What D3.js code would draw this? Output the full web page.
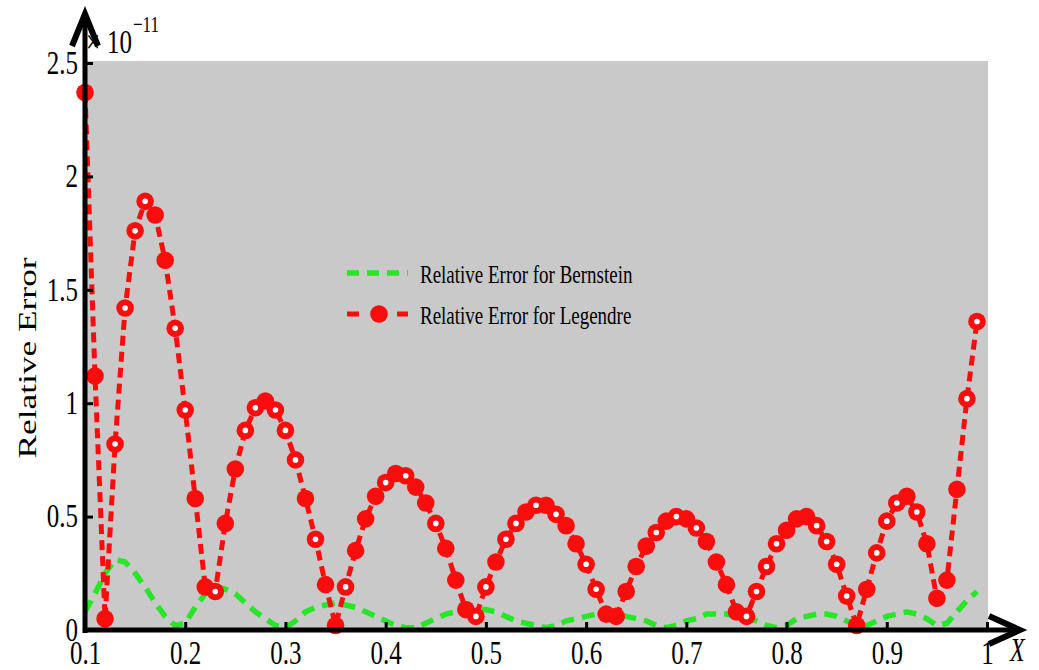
<!DOCTYPE html>
<html>
<head>
<meta charset="utf-8">
<script src="https://cdn.jsdelivr.net/npm/d3@7"></script>
<style>
  body { margin: 0; background: #fff; }
  svg { display: block; }
  text { font-family: "Liberation Serif", "Times New Roman", serif; fill: #000; }
</style>
</head>
<body>
<svg id="chart" width="1039" height="670"></svg>
<script>
// Sample points of x
const xValues = [
  0.10, 0.11, 0.12, 0.13, 0.14, 0.15, 0.16, 0.17, 0.18, 0.19,
  0.20, 0.21, 0.22, 0.23, 0.24, 0.25, 0.26, 0.27, 0.28, 0.29,
  0.30, 0.31, 0.32, 0.33, 0.34, 0.35, 0.36, 0.37, 0.38, 0.39,
  0.40, 0.41, 0.42, 0.43, 0.44, 0.45, 0.46, 0.47, 0.48, 0.49,
  0.50, 0.51, 0.52, 0.53, 0.54, 0.55, 0.56, 0.57, 0.58, 0.59,
  0.60, 0.61, 0.62, 0.63, 0.64, 0.65, 0.66, 0.67, 0.68, 0.69,
  0.70, 0.71, 0.72, 0.73, 0.74, 0.75, 0.76, 0.77, 0.78, 0.79,
  0.80, 0.81, 0.82, 0.83, 0.84, 0.85, 0.86, 0.87, 0.88, 0.89,
  0.90, 0.91, 0.92, 0.93, 0.94, 0.95, 0.96, 0.97, 0.98, 0.99
];

// Relative error (units of 1e-11), Bernstein approximation
const bernstein = [
  0.08, 0.16, 0.25, 0.31, 0.30, 0.25, 0.19, 0.12, 0.06, 0.02,
  0.03, 0.10, 0.16, 0.19, 0.18, 0.16, 0.12, 0.08, 0.05, 0.02,
  0.01, 0.04, 0.08, 0.10, 0.11, 0.12, 0.11, 0.10, 0.08, 0.06,
  0.04, 0.02, 0.01, 0.01, 0.03, 0.05, 0.07, 0.08, 0.09, 0.09,
  0.09, 0.08, 0.06, 0.04, 0.03, 0.02, 0.01, 0.02, 0.04, 0.05,
  0.06, 0.07, 0.07, 0.07, 0.06, 0.05, 0.04, 0.02, 0.01, 0.02,
  0.04, 0.05, 0.07, 0.07, 0.07, 0.06, 0.05, 0.04, 0.02, 0.01,
  0.02, 0.05, 0.06, 0.07, 0.07, 0.06, 0.04, 0.02, 0.02, 0.04,
  0.06, 0.07, 0.08, 0.07, 0.05, 0.02, 0.03, 0.08, 0.13, 0.17
];

// Relative error (units of 1e-11), Legendre approximation
const legendre = [
  2.37, 1.12, 0.05, 0.82, 1.42, 1.76, 1.89, 1.83, 1.63, 1.33,
  0.97, 0.58, 0.19, 0.17, 0.47, 0.71, 0.88, 0.98, 1.01, 0.97,
  0.88, 0.75, 0.58, 0.40, 0.20, 0.02, 0.19, 0.35, 0.49, 0.59,
  0.65, 0.69, 0.68, 0.63, 0.56, 0.47, 0.36, 0.22, 0.09, 0.06,
  0.19, 0.30, 0.40, 0.47, 0.52, 0.55, 0.55, 0.51, 0.46, 0.38,
  0.29, 0.18, 0.07, 0.06, 0.17, 0.28, 0.37, 0.43, 0.48, 0.50,
  0.49, 0.45, 0.39, 0.30, 0.20, 0.08, 0.06, 0.17, 0.28, 0.38,
  0.44, 0.49, 0.50, 0.46, 0.39, 0.29, 0.15, 0.02, 0.18, 0.34,
  0.48, 0.56, 0.59, 0.52, 0.38, 0.14, 0.22, 0.62, 1.02, 1.36
];

const xTickValues = [0.1, 0.2, 0.3, 0.4, 0.5, 0.6, 0.7, 0.8, 0.9, 1];
const xTickLabels = ["0.1", "0.2", "0.3", "0.4", "0.5", "0.6", "0.7", "0.8", "0.9", "1"];
const yTickValues = [0, 0.5, 1, 1.5, 2, 2.5];
const yTickLabels = ["0", "0.5", "1", "1.5", "2", "2.5"];
const seriesNames = ["Relative Error for Bernstein", "Relative Error for Legendre"];

// Legendre markers printed with a light centre
const litCentreX = [0.13, 0.14, 0.15, 0.16, 0.19, 0.20, 0.23, 0.26, 0.27, 0.29, 0.30, 0.31,
  0.33, 0.36, 0.40, 0.42, 0.45, 0.49, 0.50, 0.52, 0.53, 0.55, 0.57, 0.60, 0.61, 0.67,
  0.69, 0.71, 0.76, 0.77, 0.78, 0.79, 0.83, 0.84, 0.85, 0.86, 0.89, 0.90, 0.91, 0.93,
  0.98, 0.99];

const SY = 1.36;              // lettering is drawn tall and narrow
const GREEN = "#27e627";
const RED = "#fb0d0d";

const svg = d3.select("#chart");
const x = d3.scaleLinear().domain([0.1, 1]).range([85, 987]);
const y = d3.scaleLinear().domain([0, 2.5]).range([630, 63]);

// grey panel
svg.append("rect")
  .attr("x", x(0.1)).attr("y", 61)
  .attr("width", 988 - x(0.1)).attr("height", y(0) - 61)
  .attr("fill", "#c9c9c9");

const bData = xValues.map((v, i) => ({ x: v, v: bernstein[i] }));
const lData = xValues.map((v, i) => ({ x: v, v: legendre[i] }));
const line = d3.line().x(d => x(d.x)).y(d => y(d.v));

// Bernstein curve
svg.append("path").datum(bData)
  .attr("d", line)
  .attr("fill", "none").attr("stroke", GREEN)
  .attr("stroke-width", 5.5).attr("stroke-dasharray", "13,8");

// Legendre curve
svg.append("path").datum(lData)
  .attr("d", line)
  .attr("fill", "none").attr("stroke", RED)
  .attr("stroke-width", 5).attr("stroke-dasharray", "10,6");

const lit = new Set(litCentreX.map(v => v.toFixed(2)));
const marks = svg.append("g");
marks.selectAll("circle.m").data(lData).join("circle")
  .attr("class", "m")
  .attr("cx", d => x(d.x)).attr("cy", d => y(d.v))
  .attr("r", 8.8).attr("fill", RED);
marks.selectAll("circle.c").data(lData.filter(d => lit.has(d.x.toFixed(2)))).join("circle")
  .attr("class", "c")
  .attr("cx", d => x(d.x)).attr("cy", d => y(d.v))
  .attr("r", 2.8).attr("fill", "#fff");

// exponent note
function tallText(px, py, str, size) {
  return svg.append("text")
    .attr("transform", `translate(${px},${py}) scale(1,${SY})`)
    .style("font-size", size + "px")
    .text(str);
}
tallText(86, 53, "\u00d7", 25);
tallText(107, 53, "10", 25);
tallText(133, 32, "\u221211", 17);

// axes
const xAxis = svg.append("g").attr("transform", `translate(0,${y(0)})`)
  .call(d3.axisBottom(x).tickValues(xTickValues)
    .tickFormat((d, i) => xTickLabels[i]).tickSizeInner(-8).tickSizeOuter(0));
xAxis.select(".domain").remove();
xAxis.selectAll(".tick line").attr("stroke", "#000").attr("stroke-width", 3);
xAxis.selectAll(".tick text")
  .attr("y", 34 / SY).attr("dy", 0)
  .attr("transform", `scale(1,${SY})`)
  .style("font-size", "25px").attr("font-family", null);

const yAxis = svg.append("g").attr("transform", `translate(${x(0.1)},0)`)
  .call(d3.axisLeft(y).tickValues(yTickValues)
    .tickFormat((d, i) => yTickLabels[i]).tickSizeInner(-8).tickSizeOuter(0));
yAxis.select(".domain").remove();
yAxis.selectAll(".tick line").attr("stroke", "#000").attr("stroke-width", 3);
yAxis.selectAll(".tick text")
  .attr("x", -7).attr("y", 0).attr("dy", "0.3em")
  .attr("transform", `scale(1,${SY})`)
  .style("font-size", "25px").attr("font-family", null);

// axis lines with arrow heads
const axisInk = svg.append("g").attr("stroke", "#000").attr("fill", "none");
axisInk.append("line").attr("x1", x(0.1)).attr("y1", y(0) + 3)
  .attr("x2", x(0.1)).attr("y2", 16).attr("stroke-width", 5);
axisInk.append("line").attr("x1", x(0.1) - 2).attr("y1", y(0))
  .attr("x2", 1018).attr("y2", y(0)).attr("stroke-width", 5);
axisInk.append("path").attr("d", `M${x(0.1) - 13},46 L${x(0.1)},14 L${x(0.1) + 13},46`)
  .attr("stroke-width", 6).attr("stroke-linejoin", "miter");
axisInk.append("path").attr("d", `M989,${y(0) - 14} L1020,${y(0)} L989,${y(0) + 14}`)
  .attr("stroke-width", 6).attr("stroke-linejoin", "miter");

// axis titles
svg.append("text")
  .attr("transform", `translate(36,358) scale(1,${SY}) rotate(-90)`)
  .attr("text-anchor", "middle")
  .style("font-size", "26px")
  .text("Relative Error");
svg.append("text")
  .attr("transform", `translate(1010,661) scale(1,${SY})`)
  .style("font-size", "24px").style("font-style", "italic")
  .text("X");

// legend
const legend = svg.append("g");
const rows = [273, 314];
legend.append("line").attr("x1", 347).attr("x2", 408).attr("y1", rows[0]).attr("y2", rows[0])
  .attr("stroke", GREEN).attr("stroke-width", 5.5).attr("stroke-dasharray", "12,8");
legend.append("line").attr("x1", 347).attr("x2", 408).attr("y1", rows[1]).attr("y2", rows[1])
  .attr("stroke", RED).attr("stroke-width", 5).attr("stroke-dasharray", "12,38");
legend.append("circle").attr("cx", 379).attr("cy", rows[1]).attr("r", 8.8).attr("fill", RED);
seriesNames.forEach((name, i) => {
  legend.append("text")
    .attr("transform", `translate(420,${rows[i] + 10}) scale(1,${SY})`)
    .style("font-size", "19px")
    .text(name);
});
</script>
</body>
</html>
